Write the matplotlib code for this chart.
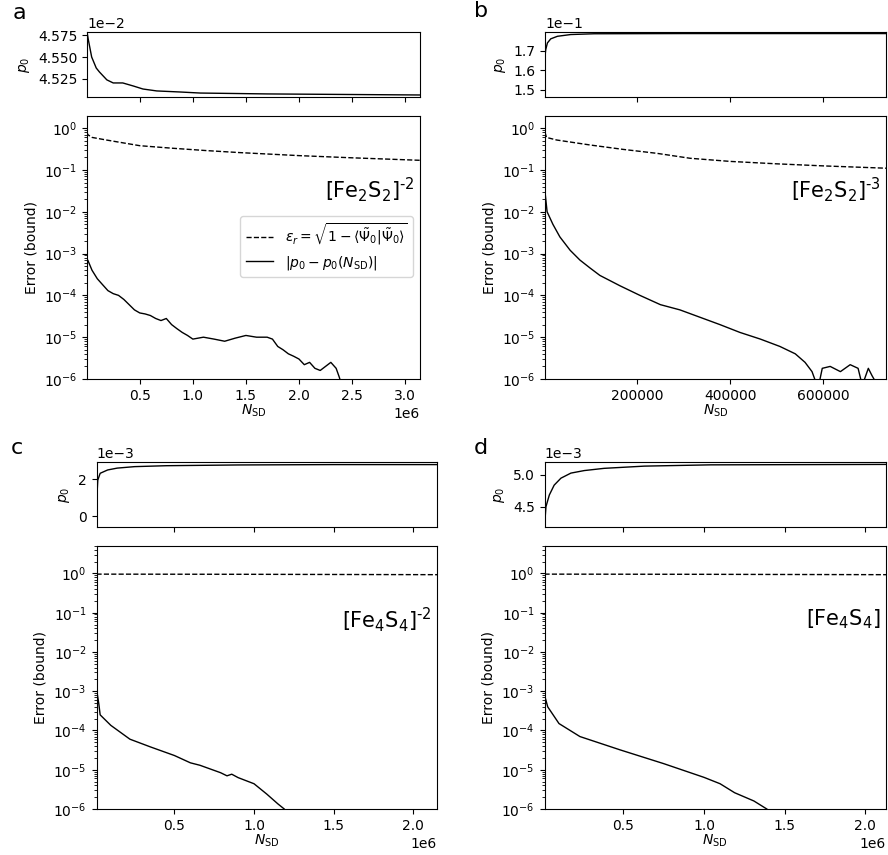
import numpy as np
import matplotlib.pyplot as plt
from matplotlib.ticker import MultipleLocator

# ---- data ----
# panel a: [Fe2S2]-2
a_p0_x = [0.003, 0.004, 0.015, 0.047, 0.09, 0.12, 0.19, 0.25, 0.34, 0.44, 0.53, 0.66, 0.88, 1.07, 1.7, 3.14]
a_p0_y = [4.560, 4.578, 4.570, 4.550, 4.5375, 4.533, 4.524, 4.5205, 4.5205, 4.517, 4.5136, 4.5114, 4.5102, 4.509, 4.508, 4.5068]
a_eps_x = [0.003, 0.01, 0.05, 0.185, 0.5, 0.81, 1.13, 1.44, 2.0, 2.5, 3.14]
a_eps_y = [0.8, 0.7, 0.6, 0.52, 0.38, 0.33, 0.29, 0.26, 0.22, 0.195, 0.17]
a_err_x = [0.003, 0.01, 0.05, 0.1, 0.15, 0.2, 0.25, 0.3, 0.35, 0.4, 0.45, 0.5, 0.55, 0.6, 0.65, 0.7,
           0.75, 0.8, 0.85, 0.9, 0.95, 1.0, 1.1, 1.2, 1.3, 1.4, 1.5, 1.6, 1.7, 1.75, 1.8, 1.85,
           1.9, 1.95, 2.0, 2.05, 2.1, 2.15, 2.2, 2.25, 2.3, 2.35, 2.38, 2.42]
a_err_y = [6e-4, 7e-4, 4e-4, 2.5e-4, 1.8e-4, 1.3e-4, 1.1e-4, 1.0e-4, 8e-5, 6e-5, 4.5e-5, 3.8e-5,
           3.6e-5, 3.3e-5, 2.8e-5, 2.5e-5, 2.8e-5, 2.0e-5, 1.6e-5, 1.3e-5, 1.1e-5, 9e-6, 1.0e-5,
           9e-6, 8e-6, 9.5e-6, 1.1e-5, 1.0e-5, 1.0e-5, 9e-6, 6e-6, 5e-6, 4e-6, 3.5e-6, 3e-6,
           2.2e-6, 2.5e-6, 1.8e-6, 1.6e-6, 2.0e-6, 2.5e-6, 1.8e-6, 1.1e-6, 5e-7]

# panel b: [Fe2S2]-3
b_p0_x = [2000, 2300, 3600, 7200, 14400, 28700, 57300, 107500, 300000, 735000]
b_p0_y = [1.465, 1.68, 1.707, 1.741, 1.762, 1.775, 1.784, 1.788, 1.789, 1.789]
b_eps_x = [2000, 5000, 27000, 99000, 170000, 242000, 314000, 400000, 500000, 600000, 735000]
b_eps_y = [0.8, 0.6, 0.52, 0.395, 0.31, 0.25, 0.19, 0.16, 0.14, 0.125, 0.11]
b_err_x = [2000, 6500, 19000, 34000, 56000, 77000, 99000, 120000, 163000, 206000, 250000, 292000,
           335000, 378000, 421000, 465000, 507000, 540000, 561000, 576000, 589000, 598000,
           615000, 637000, 658000, 675000, 684000, 697000, 705000, 714000]
b_err_y = [3e-2, 1e-2, 5e-3, 2.5e-3, 1.2e-3, 7e-4, 4.5e-4, 3e-4, 1.7e-4, 1e-4, 6e-5, 4.5e-5,
           3e-5, 2e-5, 1.3e-5, 9e-6, 6e-6, 4e-6, 2.5e-6, 1.5e-6, 6e-7, 1.8e-6, 2e-6, 1.5e-6,
           2.2e-6, 1.8e-6, 7e-7, 1.8e-6, 1.2e-6, 8e-7]

# panel c: [Fe4S4]-2
c_p0_x = [0.01, 0.012, 0.018, 0.033, 0.08, 0.14, 0.25, 0.45, 0.9, 1.5, 2.15]
c_p0_y = [-0.4, 1.0, 1.95, 2.32, 2.5, 2.6, 2.68, 2.73, 2.77, 2.79, 2.79]
c_eps_x = [0.01, 1.0, 2.15]
c_eps_y = [0.96, 0.95, 0.93]
c_err_x = [0.01, 0.015, 0.025, 0.033, 0.1, 0.22, 0.35, 0.5, 0.6, 0.66, 0.79, 0.83, 0.86, 0.9,
           1.0, 1.08, 1.15, 1.19, 1.22]
c_err_y = [2e-3, 8.5e-4, 4.6e-4, 2.5e-4, 1.35e-4, 6e-5, 3.8e-5, 2.3e-5, 1.5e-5, 1.3e-5, 8.4e-6,
           7e-6, 7.7e-6, 6.3e-6, 4.4e-6, 2.4e-6, 1.35e-6, 1e-6, 7e-7]

# panel d: [Fe4S4]
d_p0_x = [0.01, 0.019, 0.04, 0.07, 0.112, 0.174, 0.257, 0.38, 0.63, 1.04, 2.13]
d_p0_y = [4.185, 4.50, 4.685, 4.84, 4.95, 5.03, 5.07, 5.105, 5.14, 5.16, 5.167]
d_eps_x = [0.01, 1.0, 2.13]
d_eps_y = [0.96, 0.95, 0.93]
d_err_x = [0.01, 0.03, 0.1, 0.23, 0.48, 0.75, 1.0, 1.1, 1.19, 1.31, 1.39, 1.42]
d_err_y = [8e-4, 4e-4, 1.5e-4, 7e-5, 3.2e-5, 1.43e-5, 6.4e-6, 4.4e-6, 2.6e-6, 1.6e-6, 1e-6, 8e-7]

W, H = 888, 855


def box(x0, y0, x1, y1):
    return [x0 / W, 1 - y1 / H, (x1 - x0) / W, (y1 - y0) / H]


fig = plt.figure(figsize=(W / 100, H / 100), dpi=100)

panels = [
    dict(tag='a', top=box(87, 32, 420, 97), bot=box(87, 116, 420, 379),
         p0=(np.array(a_p0_x) * 1e6, np.array(a_p0_y) * 1e-2), p0lim=(4.5045e-2, 4.5785e-2),
         eps=(np.array(a_eps_x) * 1e6, a_eps_y), err=(np.array(a_err_x) * 1e6, a_err_y),
         xlim=(3000, 3.14e6), elim=(1e-6, 1.95), name=r'[Fe$_2$S$_2$]$^{\text{-2}}$', lab=(19, 13),
         step=0.5e6),
    dict(tag='b', top=box(545, 32, 886, 97), bot=box(545, 116, 886, 379),
         p0=(np.array(b_p0_x), np.array(b_p0_y) * 1e-1), p0lim=(1.464e-1, 1.797e-1),
         eps=(b_eps_x, b_eps_y), err=(b_err_x, b_err_y),
         xlim=(2000, 735000), elim=(1e-6, 1.95), name=r'[Fe$_2$S$_2$]$^{\text{-3}}$', lab=(481, 11),
         step=200000),
    dict(tag='c', top=box(96.5, 462, 437, 527), bot=box(96.5, 546, 437, 809),
         p0=(np.array(c_p0_x) * 1e6, np.array(c_p0_y) * 1e-3), p0lim=(-0.58e-3, 2.93e-3),
         eps=(np.array(c_eps_x) * 1e6, c_eps_y), err=(np.array(c_err_x) * 1e6, c_err_y),
         xlim=(0.01e6, 2.15e6), elim=(1e-6, 5.0), name=r'[Fe$_4$S$_4$]$^{\text{-2}}$', lab=(17, 448),
         step=0.5e6),
    dict(tag='d', top=box(544.5, 462, 886, 527), bot=box(544.5, 546, 886, 809),
         p0=(np.array(d_p0_x) * 1e6, np.array(d_p0_y) * 1e-3), p0lim=(4.18e-3, 5.205e-3),
         eps=(np.array(d_eps_x) * 1e6, d_eps_y), err=(np.array(d_err_x) * 1e6, d_err_y),
         xlim=(0.01e6, 2.13e6), elim=(1e-6, 5.0), name=r'[Fe$_4$S$_4$]', lab=(481, 448),
         step=0.5e6),
]

for p in panels:
    ax1 = fig.add_axes(p['top'])
    ax2 = fig.add_axes(p['bot'], sharex=ax1)

    ax1.plot(*p['p0'], color='k', lw=1)
    ax1.set_ylim(*p['p0lim'])
    ax1.set_ylabel(r'$p_0$')
    ax1.ticklabel_format(axis='y', style='sci', scilimits=(0, 0))
    plt.setp(ax1.get_xticklabels(), visible=False)
    ax1.xaxis.get_offset_text().set_visible(False)

    ax2.plot(*p['eps'], 'k--', lw=1,
             label=r'$\varepsilon_r = \sqrt{1-\langle\tilde{\Psi}_0|\tilde{\Psi}_0\rangle}$')
    ax2.plot(*p['err'], 'k-', lw=1, label=r'$|p_0 - p_0(N_{\rm SD})|$')
    ax2.set_yscale('log')
    ax2.set_ylim(*p['elim'])
    ax2.set_xlim(*p['xlim'])
    ax2.xaxis.set_major_locator(MultipleLocator(p['step']))
    ax2.set_xlabel(r'$N_{\rm SD}$', labelpad=0)
    ax2.set_ylabel('Error (bound)')
    ax2.text(0.985, 0.72, p['name'], transform=ax2.transAxes, ha='right', va='center', fontsize=15)
    if p['tag'] == 'a':
        ax2.legend(loc='lower right', bbox_to_anchor=(1.0, 0.361))

    fig.text(p['lab'][0] / W, 1 - p['lab'][1] / H, p['tag'], ha='center', va='center', fontsize=16)

fig.savefig('out.png', dpi=100)
